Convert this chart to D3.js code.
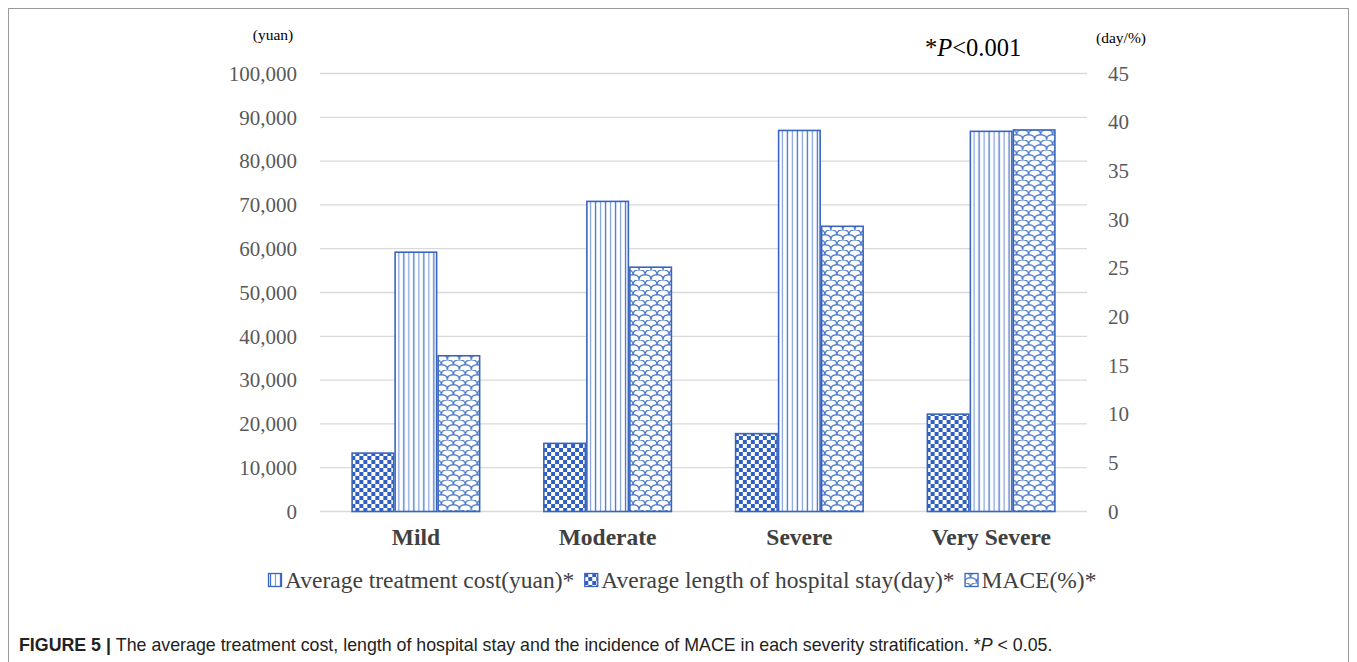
<!DOCTYPE html>
<html>
<head>
<meta charset="utf-8">
<script src="https://cdn.jsdelivr.net/npm/d3@7"></script>
<style>
  html, body { margin: 0; padding: 0; background: #fff; }
  svg { display: block; }
</style>
</head>
<body>
<svg id="chart" width="1357" height="662"></svg>
<script>
// Severity groups along the x axis
const categories = ["Mild", "Moderate", "Severe", "Very Severe"];

// Average length of hospital stay (day) – right axis
const stayDays = [6.0, 7.0, 8.0, 10.0];
// Average treatment cost (yuan) – left axis
const costYuan = [59200, 70800, 87000, 86800];
// MACE incidence (%) – right axis
const macePct = [16.0, 25.1, 29.3, 39.2];

const leftTicks = [0, 10000, 20000, 30000, 40000, 50000, 60000, 70000, 80000, 90000, 100000];
const rightTicks = [0, 5, 10, 15, 20, 25, 30, 35, 40, 45];

const legendLabels = [
  { key: "cost", text: "Average treatment cost(yuan)*" },
  { key: "stay", text: "Average length of hospital stay(day)*" },
  { key: "mace", text: "MACE(%)*" }
];

const BLUE = "#4472c4";
const EDGE = "#3a65bd";

const svg = d3.select("#chart");
const plot = { left: 320, right: 1087, top: 73.5, bottom: 511.5 };

// Outer figure frame
svg.append("rect")
  .attr("x", 8.5).attr("y", 8.5)
  .attr("width", 1340).attr("height", 720)
  .attr("fill", "none").attr("stroke", "#9a9a9a").attr("stroke-width", 1);

// ---- fill patterns ----
const defs = svg.append("defs");

// vertical stripes (treatment cost)
const pv = defs.append("pattern").attr("id", "pat-cost")
  .attr("patternUnits", "userSpaceOnUse").attr("width", 10).attr("height", 10);
pv.append("rect").attr("width", 10).attr("height", 10).attr("fill", "#fff");
pv.append("line").attr("x1", 2.5).attr("x2", 2.5).attr("y1", 0).attr("y2", 10)
  .attr("stroke", BLUE).attr("stroke-width", 1.3);
pv.append("line").attr("x1", 7.5).attr("x2", 7.5).attr("y1", 0).attr("y2", 10)
  .attr("stroke", "#7f9fdb").attr("stroke-width", 1.2);

// checkerboard (hospital stay)
const pc = defs.append("pattern").attr("id", "pat-stay")
  .attr("patternUnits", "userSpaceOnUse").attr("width", 8).attr("height", 8);
pc.append("rect").attr("width", 8).attr("height", 8).attr("fill", "#fff");
pc.append("rect").attr("x", 0).attr("y", 0).attr("width", 4).attr("height", 4).attr("fill", "#2f5fc4");
pc.append("rect").attr("x", 4).attr("y", 4).attr("width", 4).attr("height", 4).attr("fill", "#2f5fc4");

// shingle / fish-scale pattern (MACE)
const ps = defs.append("pattern").attr("id", "pat-mace")
  .attr("patternUnits", "userSpaceOnUse").attr("width", 12).attr("height", 10);
ps.append("rect").attr("width", 12).attr("height", 10).attr("fill", "#fff");
ps.append("path")
  .attr("d", "M0,10 C0,4 5,5 6,5 C7,5 12,4 12,10 M-6,5 C-6,-1 -1,0 0,0 C1,0 6,-1 6,5 M6,5 C6,-1 11,0 12,0 C13,0 18,-1 18,5")
  .attr("fill", "none").attr("stroke", BLUE).attr("stroke-width", 1.2);

const fills = { cost: "url(#pat-cost)", stay: "url(#pat-stay)", mace: "url(#pat-mace)" };

// ---- scales ----
const x = d3.scaleBand().domain(categories)
  .range([plot.left, plot.right])
  .paddingInner(0.327).paddingOuter(0.1635);

const seriesOrder = ["stay", "cost", "mace"];
const xSub = d3.scaleBand().domain(seriesOrder).range([0, x.bandwidth()]).padding(0);

const yLeft = d3.scaleLinear().domain([0, 100000]).range([plot.bottom, plot.top]);
const yRight = d3.scaleLinear().domain([0, 45]).range([plot.bottom, plot.top]);

// ---- gridlines ----
svg.append("g").selectAll("line").data(leftTicks).join("line")
  .attr("x1", plot.left).attr("x2", plot.right)
  .attr("y1", d => yLeft(d)).attr("y2", d => yLeft(d))
  .attr("stroke", "#d9d9d9").attr("stroke-width", 1.3);

// ---- axes ----
const tickFont = "'Liberation Serif', 'Times New Roman', serif";

const axL = svg.append("g").attr("transform", `translate(${plot.left},0)`)
  .call(d3.axisLeft(yLeft).tickValues(leftTicks).tickFormat(d3.format(",")).tickSize(0).tickPadding(23));
axL.select(".domain").remove();
axL.selectAll("text").attr("font-family", tickFont).attr("font-size", 21).attr("fill", "#595959");

const axR = svg.append("g").attr("transform", `translate(${plot.right},0)`)
  .call(d3.axisRight(yRight).tickValues(rightTicks).tickSize(0).tickPadding(21));
axR.select(".domain").remove();
axR.selectAll("text").attr("font-family", tickFont).attr("font-size", 21).attr("fill", "#595959");

const axB = svg.append("g").attr("transform", `translate(0,${plot.bottom})`)
  .call(d3.axisBottom(x).tickSize(0).tickPadding(17));
axB.select(".domain").remove();
axB.selectAll("text").attr("font-family", tickFont).attr("font-size", 23.5)
  .attr("font-weight", "bold").attr("fill", "#404040");

// ---- bars ----
const rows = categories.map((c, i) => ({
  cat: c,
  bars: [
    { key: "stay", y: yRight(stayDays[i]) },
    { key: "cost", y: yLeft(costYuan[i]) },
    { key: "mace", y: yRight(macePct[i]) }
  ]
}));

const groups = svg.append("g").selectAll("g").data(rows).join("g")
  .attr("transform", d => `translate(${x(d.cat)},0)`);

groups.selectAll("rect").data(d => d.bars).join("rect")
  .attr("x", d => xSub(d.key) + 0.75)
  .attr("width", xSub.bandwidth() - 1.5)
  .attr("y", d => d.y)
  .attr("height", d => plot.bottom - d.y)
  .attr("fill", d => fills[d.key])
  .attr("stroke", EDGE).attr("stroke-width", 1.6);

// ---- axis unit labels & annotation ----
svg.append("text").attr("x", 273).attr("y", 40).attr("text-anchor", "middle")
  .attr("font-family", tickFont).attr("font-size", 15.5).attr("fill", "#000").text("(yuan)");
svg.append("text").attr("x", 1121).attr("y", 43).attr("text-anchor", "middle")
  .attr("font-family", tickFont).attr("font-size", 15.5).attr("fill", "#000").text("(day/%)");

const pTxt = svg.append("text").attr("x", 925).attr("y", 56)
  .attr("font-family", tickFont).attr("font-size", 24.5).attr("fill", "#000");
pTxt.append("tspan").text("*");
pTxt.append("tspan").attr("font-style", "italic").text("P");
pTxt.append("tspan").text("<0.001");

// ---- legend ----
const legend = svg.append("g").attr("transform", "translate(268,573)");
let lx = 0;
legendLabels.forEach((item) => {
  const g = legend.append("g").attr("transform", `translate(${lx},0)`);
  g.append("rect").attr("x", 0.5).attr("y", 0.5).attr("width", 13).attr("height", 13)
    .attr("fill", fills[item.key]).attr("stroke", EDGE).attr("stroke-width", 1.3);
  const t = g.append("text").attr("x", 17).attr("y", 15)
    .attr("font-family", tickFont).attr("font-size", 23.5).attr("fill", "#404040")
    .text(item.text);
  lx += 17 + t.node().getComputedTextLength() + 10;
});

// ---- caption ----
const cap = svg.append("text").attr("x", 19).attr("y", 651)
  .attr("font-family", "'Liberation Sans', Arial, sans-serif").attr("font-size", 17.8).attr("fill", "#222");
cap.append("tspan").attr("font-weight", "bold").text("FIGURE 5 | ");
cap.append("tspan").text("The average treatment cost, length of hospital stay and the incidence of MACE in each severity stratification. *");
cap.append("tspan").attr("font-style", "italic").text("P");
cap.append("tspan").text(" < 0.05.");
</script>
</body>
</html>
